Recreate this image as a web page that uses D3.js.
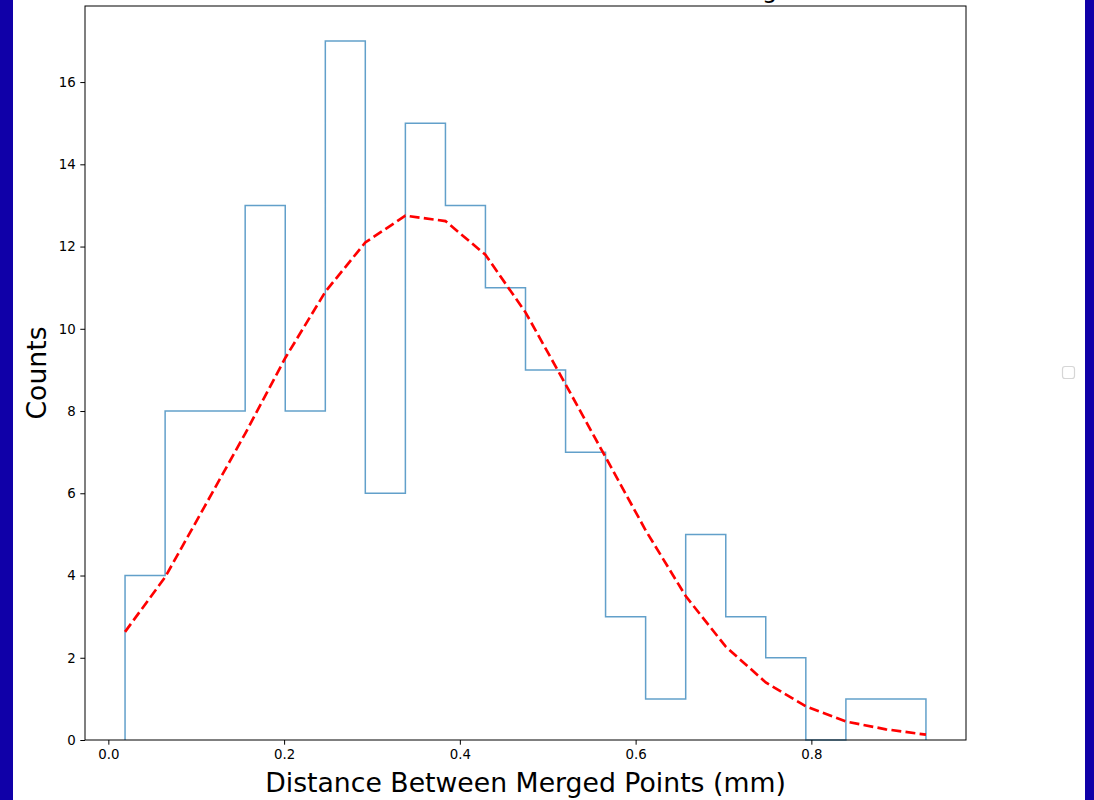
<!DOCTYPE html>
<html>
<head>
<meta charset="utf-8">
<script src="https://cdn.jsdelivr.net/npm/d3@7"></script>
<style>
  body { margin: 0; background: #fff; }
  svg { display: block; font-family: "DejaVu Sans", sans-serif; }
</style>
</head>
<body>
<div id="chart"></div>
<script>
// Histogram bin edges (mm)
const binEdges = [0.0190, 0.0646, 0.1101, 0.1557, 0.2013, 0.2469, 0.2924, 0.3380, 0.3836, 0.4291,
                  0.4747, 0.5203, 0.5658, 0.6114, 0.6570, 0.7026, 0.7481, 0.7937, 0.8393, 0.8848, 0.9304];
// Counts per bin
const binCounts = [4, 8, 8, 13, 8, 17, 6, 15, 13, 11, 9, 7, 3, 1, 5, 3, 2, 0, 1, 1];
// Fitted curve evaluated at the bin edges
const fitValues = [2.63, 3.96, 5.70, 7.45, 9.29, 10.9, 12.1, 12.75, 12.62, 11.8,
                   10.4, 8.65, 6.88, 5.10, 3.50, 2.27, 1.40, 0.82, 0.45, 0.26, 0.13];
const xTicks = [0.0, 0.2, 0.4, 0.6, 0.8];
const yTicks = [0, 2, 4, 6, 8, 10, 12, 14, 16];

const width = 1094;
const height = 800;
const plot = { left: 85, right: 966, top: 6, bottom: 740 };

const svg = d3.select('#chart')
    .append('svg')
    .attr('width', width)
    .attr('height', height);

svg.append('rect').attr('width', width).attr('height', height).attr('fill', '#fff');

// blue side borders
svg.append('rect').attr('x', 0).attr('y', 0).attr('width', 13).attr('height', height).attr('fill', '#1000a8');
svg.append('rect').attr('x', 1085).attr('y', 0).attr('width', 9).attr('height', height).attr('fill', '#1000a8');

// scales with matplotlib-style 5% margins
const xMin = binEdges[0], xMax = binEdges[binEdges.length - 1];
const pad = (xMax - xMin) * 0.05;
const x = d3.scaleLinear().domain([xMin - pad, xMax + pad]).range([plot.left, plot.right]);
const y = d3.scaleLinear().domain([0, d3.max(binCounts) * 1.05]).range([plot.bottom, plot.top]);

// step histogram outline
const stepPts = [[binEdges[0], 0]];
binCounts.forEach((c, i) => {
    stepPts.push([binEdges[i], c]);
    stepPts.push([binEdges[i + 1], c]);
});
stepPts.push([binEdges[binEdges.length - 1], 0]);

svg.append('path')
    .attr('d', d3.line().x(d => x(d[0])).y(d => y(d[1]))(stepPts))
    .attr('fill', 'none')
    .attr('stroke', '#1f77b4')
    .attr('stroke-opacity', 0.7)
    .attr('stroke-width', 1.5);

// fitted curve
svg.append('path')
    .attr('d', d3.line().x((d, i) => x(binEdges[i])).y(d => y(d))(fitValues))
    .attr('fill', 'none')
    .attr('stroke', 'red')
    .attr('stroke-width', 2.67)
    .attr('stroke-dasharray', '9.9,4.3');

// axes
const xAxis = svg.append('g')
    .attr('transform', `translate(0,${plot.bottom})`)
    .call(d3.axisBottom(x).tickValues(xTicks).tickFormat(d3.format('.1f')).tickSize(4.7).tickPadding(4.5));
const yAxis = svg.append('g')
    .attr('transform', `translate(${plot.left},0)`)
    .call(d3.axisLeft(y).tickValues(yTicks).tickFormat(d3.format('d')).tickSize(4.7).tickPadding(4.5));

[xAxis, yAxis].forEach(g => {
    g.select('.domain').remove();
    g.selectAll('line').attr('stroke', '#000').attr('stroke-width', 1);
    g.selectAll('text').attr('fill', '#000').style('font-size', '13.33px').style('font-family', '"DejaVu Sans", sans-serif');
});

// frame
svg.append('rect')
    .attr('x', plot.left).attr('y', plot.top)
    .attr('width', plot.right - plot.left).attr('height', plot.bottom - plot.top)
    .attr('fill', 'none').attr('stroke', '#000').attr('stroke-width', 1);

// labels
svg.append('text')
    .attr('x', (plot.left + plot.right) / 2).attr('y', 792)
    .attr('text-anchor', 'middle')
    .style('font-size', '26.7px')
    .text('Distance Between Merged Points (mm)');

svg.append('text')
    .attr('transform', `translate(45.5,${(plot.top + plot.bottom) / 2}) rotate(-90)`)
    .attr('text-anchor', 'middle')
    .style('font-size', '26.7px')
    .text('Counts');

// title (sits above the visible area, only a descender shows)
svg.append('text')
    .attr('x', (plot.left + plot.right) / 2).attr('y', -2.5)
    .attr('text-anchor', 'middle')
    .style('font-size', '24.2px')
    .text('Distance Between Points After Smoothing');

// empty legend box
svg.append('rect')
    .attr('x', 1062.5).attr('y', 366.5)
    .attr('width', 12).attr('height', 12).attr('rx', 2.5)
    .attr('fill', '#fff').attr('stroke', '#d6d6d6').attr('stroke-width', 1.2);
</script>
</body>
</html>
